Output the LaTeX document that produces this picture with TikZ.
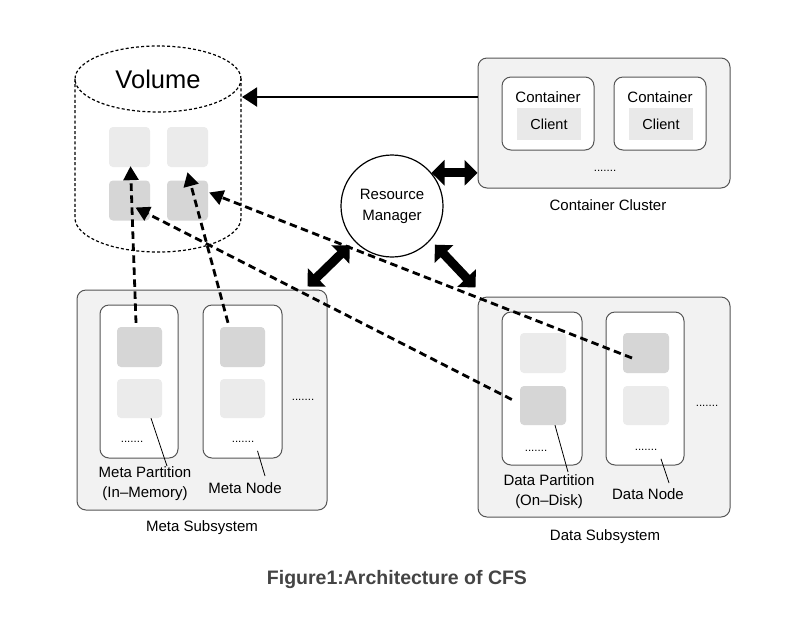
\documentclass[tikz,border=0pt]{standalone}
\usepackage{fontspec}
\setmainfont{Liberation Sans}
\usetikzlibrary{arrows.meta,calc}
\definecolor{boxfill}{HTML}{F2F2F2}
\definecolor{boxline}{HTML}{555555}
\definecolor{sqlight}{HTML}{EBEBEB}
\definecolor{sqdark}{HTML}{D6D6D6}
\definecolor{clientfill}{HTML}{E9E9E9}
\definecolor{titlecol}{HTML}{444444}
\tikzset{
  outerbox/.style={draw=boxline, fill=boxfill, rounded corners=9pt, line width=1pt, inner sep=0pt},
  innerbox/.style={draw=boxline, fill=white, rounded corners=9pt, line width=1pt, inner sep=0pt},
  sqlt/.style={fill=sqlight, rounded corners=4pt, inner sep=0pt, minimum width=41pt, minimum height=40pt},
  sqdk/.style={fill=sqdark, rounded corners=4pt, inner sep=0pt, minimum width=41pt, minimum height=40pt},
  clientbox/.style={fill=clientfill, inner sep=0pt, minimum width=64pt, minimum height=32pt, font=\fontsize{14.5}{16}\selectfont},
  lbl/.style={font=\fontsize{15}{20}\selectfont, align=center, inner sep=0pt},
  dotslbl/.style={font=\fontsize{11.5}{12}\selectfont, inner sep=0pt},
  dasharrow/.style={line width=2.8pt, dash pattern=on 7.5pt off 4.5pt, -{Triangle[length=14pt,width=15pt]}},
  blockarrow/.style={line width=9pt, {Triangle[length=13pt,width=25pt]}-{Triangle[length=13pt,width=25pt]}},
  leader/.style={line width=0.8pt, black},
}
\begin{document}
\begin{tikzpicture}[x=1pt,y=-1pt]
\useasboundingbox (0,0) rectangle (800,633);
\fill[white] (0,0) rectangle (800,633);

% ---------- Volume cylinder ----------
\begin{scope}[line width=1.2pt, dash pattern=on 3pt off 2.2pt]
  \draw (158,79) ellipse [x radius=83pt, y radius=33pt];
  \draw (75,79) -- (75,218) arc[start angle=180, end angle=360, x radius=83pt, y radius=34pt] -- (241,79);
\end{scope}
\node[font=\fontsize{25.5}{28}\selectfont, inner sep=0pt] (vol) at (158,79) {Volume};
\node[sqlt] (vl1) at (129.5,147) {};
\node[sqlt] (vl2) at (187.5,147) {};
\node[sqdk] (vd1) at (129.5,200.5) {};
\node[sqdk] (vd2) at (187.5,200.5) {};
\coordinate (volR) at (242,97);

% ---------- Container cluster ----------
\node[outerbox, minimum width=252pt, minimum height=130pt] (cc) at (604,123) {};
\node[innerbox, minimum width=92pt, minimum height=73pt] (ct1) at (548,113.5) {};
\node[innerbox, minimum width=92pt, minimum height=73pt] (ct2) at (660,113.5) {};
\node[lbl] (ct1t) at (548,97) {Container};
\node[lbl] (ct2t) at (660,97) {Container};
\node[clientbox] (cl1) at (549,124) {Client};
\node[clientbox] (cl2) at (661,124) {Client};
\node[dotslbl] (ccdots) at (605,171) {.......};
\node[lbl] (cclab) at (608,205) {Container Cluster};

% ---------- Resource manager ----------
\node[circle, draw=black, line width=1.2pt, fill=white, minimum size=102pt, inner sep=0pt,
      font=\fontsize{15}{21}\selectfont, align=center] (rm) at (392,206) {Resource\\Manager};

% ---------- Meta subsystem ----------
\node[outerbox, minimum width=250pt, minimum height=220pt] (mb) at (202,400) {};
\node[innerbox, minimum width=78pt, minimum height=153pt] (mn1) at (139,381.5) {};
\node[innerbox, minimum width=79pt, minimum height=153pt] (mn2) at (242.5,381.5) {};
\node[sqdk, minimum width=45pt] (md1) at (139.5,347) {};
\node[sqlt, minimum width=45pt, minimum height=39pt] (ml1) at (139.5,398.5) {};
\node[sqdk, minimum width=45pt] (md2) at (242.5,347) {};
\node[sqlt, minimum width=45pt, minimum height=39pt] (ml2) at (242.5,398.5) {};
\node[dotslbl] (mdots1) at (132,442) {.......};
\node[dotslbl] (mdots2) at (243,442) {.......};
\node[dotslbl] (mdots3) at (303,400) {.......};
\node[lbl] (mplab) at (145,484) {Meta Partition\\(In–Memory)};
\node[lbl] (mnlab) at (245,488) {Meta Node};
\node[lbl] (mslab) at (202,528) {Meta Subsystem};
\coordinate (mpl) at (167,466);
\coordinate (mnl) at (265,476);
\draw[leader] ([xshift=11.5pt]ml1.south) -- (mpl);
\draw[leader] ([xshift=14.5pt,yshift=-8pt]mdots2.south) -- (mnl);

% ---------- Data subsystem ----------
\node[outerbox, minimum width=252pt, minimum height=220pt] (db) at (604,407) {};
\node[innerbox, minimum width=80pt, minimum height=153pt] (dn1) at (542,388.5) {};
\node[innerbox, minimum width=78pt, minimum height=153pt] (dn2) at (645,388.5) {};
\node[sqlt, minimum width=46pt] (dl1) at (543,353) {};
\node[sqdk, minimum width=46pt, minimum height=39pt] (dd1) at (543,405.5) {};
\node[sqdk, minimum width=46pt] (dd2) at (646,353) {};
\node[sqlt, minimum width=46pt, minimum height=39pt] (dl2) at (646,405.5) {};
\node[dotslbl] (ddots1) at (536,451) {.......};
\node[dotslbl] (ddots2) at (646,450) {.......};
\node[dotslbl] (ddots3) at (707,406) {.......};
\node[lbl] (dplab) at (549,492) {Data Partition\\(On–Disk)};
\node[lbl] (dnlab) at (648,494) {Data Node};
\node[lbl] (dslab) at (605,537) {Data Subsystem};
\coordinate (dpl) at (568,472);
\coordinate (dnl) at (669,483);
\draw[leader] ([xshift=12pt]dd1.south) -- (dpl);
\draw[leader] ([xshift=15pt,yshift=-8pt]ddots2.south) -- (dnl);

% ---------- Arrows ----------
\draw[line width=2pt, -{Triangle[length=15pt,width=19pt]}] (cc.west |- volR) -- (volR);

\coordinate (rmR) at (cc.west |- rm.40);
\draw[blockarrow] (rm.40) -- (rmR);
\coordinate (mbT) at ([xshift=-20pt,yshift=3pt]mb.north east);
\draw[blockarrow] ($(rm.center)!1.12!(rm.223)$) -- (mbT);
\coordinate (dbT) at ([xshift=-2pt,yshift=9pt]db.north west);
\draw[blockarrow] ($(rm.center)!1.12!(rm.318)$) -- (dbT);

% dashed arrows
\draw[dasharrow] ([xshift=-3.5pt,yshift=4pt]md1.north) -- ([xshift=1pt,yshift=1pt]vl1.south);
\draw[dasharrow] ([xshift=-14.5pt,yshift=4pt]md2.north) -- ([yshift=-5pt]vl2.south);
\draw[dasharrow] ([xshift=-8pt,yshift=6pt]dd1.west) -- ([xshift=6pt,yshift=-7pt]vd1.center);
\draw[dasharrow] ([xshift=-14pt,yshift=-5pt]dd2.center) -- ([xshift=1pt,yshift=8pt]vd2.east);

% ---------- Title ----------
\node[font=\bfseries\fontsize{19.5}{22}\selectfont, text=titlecol, inner sep=0pt] (title) at (397,579) {Figure1:Architecture of CFS};
\end{tikzpicture}
\end{document}
